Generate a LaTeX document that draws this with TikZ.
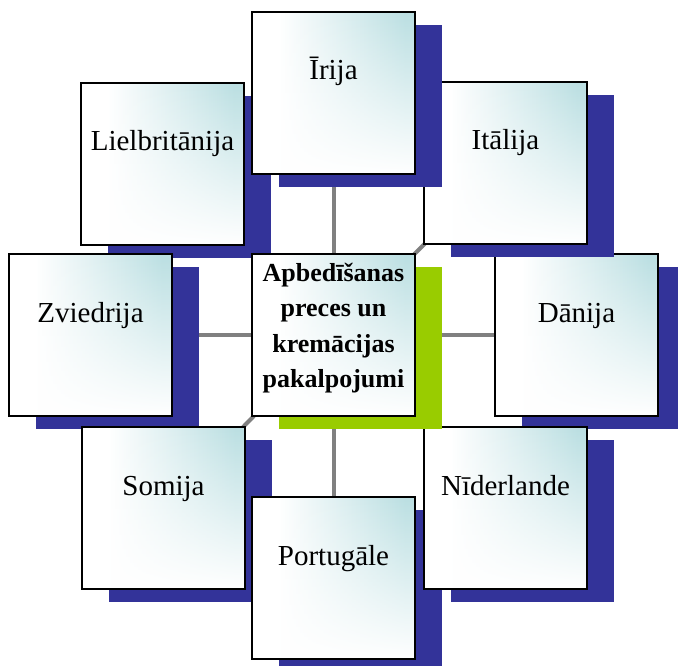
\documentclass[tikz,border=0pt]{standalone}
\usepackage{fontspec}
\setmainfont{Liberation Serif}
\usetikzlibrary{fadings}

\definecolor{tilecyan}{RGB}{187,223,226}
\definecolor{shadowblue}{RGB}{51,51,153}
\definecolor{hubgreen}{RGB}{153,204,0}
\definecolor{spokegray}{RGB}{128,128,128}

% white on the left, cyan towards the right edge
\pgfdeclarehorizontalshading{tilewash}{100bp}{color(0bp)=(white); color(33bp)=(white); color(72bp)=(tilecyan); color(100bp)=(tilecyan)}
% white veil that thickens towards the bottom of a tile
\tikzfading[name=whitebottom, top color=transparent!100, middle color=transparent!65, bottom color=transparent!0]

\pgfdeclarelayer{spokes}
\pgfsetlayers{spokes,main}

\tikzset{
  tile/.style={rectangle, minimum width=163pt, minimum height=162pt,
    inner sep=0pt, outer sep=0pt,
    preaction={shading=tilewash},
    preaction={fill=white, path fading=whitebottom},
    draw=black, line width=1.3pt},
  tiletext/.style={anchor=base, inner sep=0pt, font=\fontsize{29}{35}\selectfont},
  hubtext/.style={anchor=center, inner sep=0pt, align=center,
    font=\bfseries\fontsize{26}{35.3}\selectfont},
  tileshadow/.style={fill=shadowblue},
  hubshadow/.style={fill=hubgreen},
  spoke/.style={draw=spokegray, line width=4pt},
}

% #1 name, #2 left edge, #3 top edge, #4 label
\newcommand\countrytile[4]{%
  \fill[tileshadow] (#2+27,#3+13) rectangle ++(163,162);
  \node[tile] (#1) at (#2+81.5,#3+81) {};
  \node[tiletext] (#1-text) at ([yshift=-68pt]#1.north) {#4};
}

\begin{document}
\begin{tikzpicture}[x=1pt,y=-1pt]
  \useasboundingbox (0,0) rectangle (678,666);
  \clip (0,0) rectangle (678,666);

  \countrytile{lielbritanija}{81}{83}{Lielbritānija}
  \countrytile{zviedrija}{9}{254}{Zviedrija}
  \countrytile{somija}{82}{427}{Somija}
  \countrytile{portugale}{252}{497}{Portugāle}
  \countrytile{danija}{495}{254}{Dānija}
  \countrytile{niderlande}{424}{427}{Nīderlande}
  \countrytile{italija}{424}{82}{Itālija}
  \countrytile{irija}{252}{12}{Īrija}

  % central tile with its green shadow
  \fill[hubshadow] (252+27,254+13) rectangle ++(163,162);
  \node[tile] (hub) at (252+81.5,254+81) {};
  \node[hubtext] (hub-text) at ([yshift=7pt]hub.center)
    {Apbedīšanas\\preces un\\kremācijas\\pakalpojumi};

  \begin{pgfonlayer}{spokes}
    \foreach \t in {irija,italija,danija,niderlande,portugale,somija,zviedrija,lielbritanija}
      \draw[spoke] (hub.center) -- (\t.center);
  \end{pgfonlayer}
\end{tikzpicture}
\end{document}
